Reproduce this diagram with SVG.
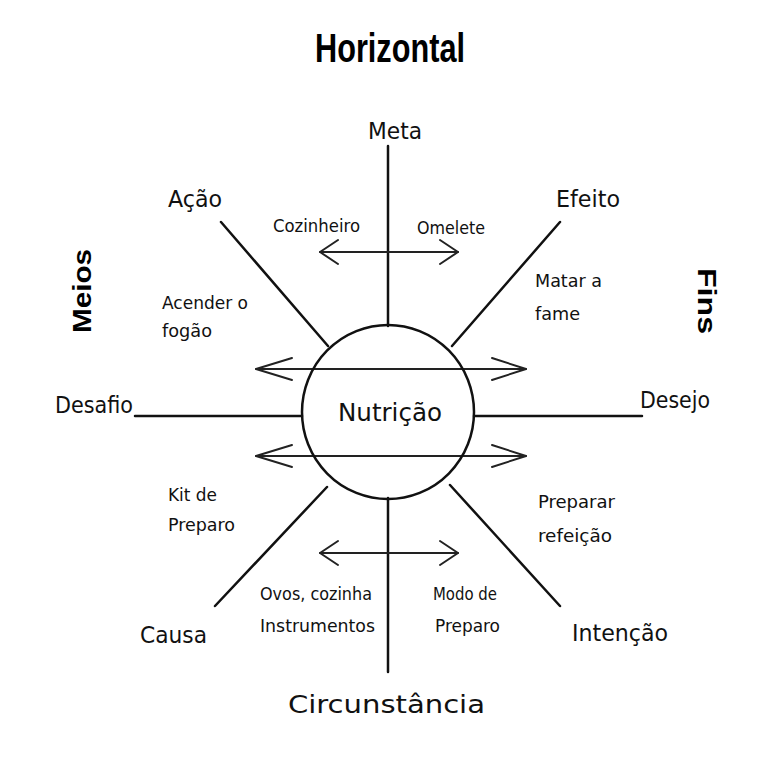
<svg xmlns="http://www.w3.org/2000/svg" width="766" height="768" viewBox="0 0 766 768">
<style>
.ln{stroke:#111;stroke-width:2.5;fill:none;stroke-linecap:round}
.ar{stroke:#222;stroke-width:2;fill:none;stroke-linecap:round;stroke-linejoin:round}
.hw{font-family:"DejaVu Sans Condensed","Liberation Sans",sans-serif;fill:#111}
.big{font-size:23px}
.sm{font-size:18px}
.bold{font-family:"Liberation Sans",Arial,sans-serif;font-weight:bold;fill:#000}
</style>
<rect width="766" height="768" fill="#fff"/>
<g id="connectors">
<line class="ln" x1="388" y1="146" x2="388" y2="326"/>
<line class="ln" x1="388" y1="498" x2="388" y2="672"/>
<line class="ln" x1="135" y1="416" x2="302" y2="416"/>
<line class="ln" x1="474" y1="416" x2="642" y2="416"/>
<line class="ln" x1="221" y1="222" x2="328" y2="346"/>
<line class="ln" x1="560" y1="222" x2="452" y2="346"/>
<line class="ln" x1="215" y1="606" x2="327" y2="487"/>
<line class="ln" x1="450" y1="485" x2="560" y2="606"/>
<g class="ar">
<line x1="320" y1="252" x2="458" y2="252"/>
<polyline points="338,240 320,252 338,264"/>
<polyline points="440,240 458,252 440,264"/>
<line x1="256" y1="369" x2="526" y2="369"/>
<polyline points="292,358 256,369 292,380"/>
<polyline points="492,358 526,369 492,380"/>
<line x1="256" y1="456" x2="526" y2="456"/>
<polyline points="292,445 256,456 292,467"/>
<polyline points="492,445 526,456 492,467"/>
<line x1="320" y1="553" x2="458" y2="553"/>
<polyline points="338,541 320,553 338,565"/>
<polyline points="440,541 458,553 440,565"/>
</g>
</g>
<g id="title"><text class="bold" x="315" y="62" font-size="40" textLength="150" lengthAdjust="spacingAndGlyphs">Horizontal</text></g>
<g id="meios"><text class="bold" font-size="26" text-anchor="middle" transform="translate(91,291) rotate(-90)" textLength="84" lengthAdjust="spacingAndGlyphs">Meios</text></g>
<g id="fins"><text class="bold" font-size="26" text-anchor="middle" transform="translate(698,301) rotate(90)" textLength="66" lengthAdjust="spacingAndGlyphs">Fins</text></g>
<g id="nutricao">
<ellipse cx="388" cy="412" rx="86" ry="87" fill="none" stroke="#111" stroke-width="2.5"/>
<text class="hw" x="338" y="421" font-size="25" textLength="104" lengthAdjust="spacingAndGlyphs">Nutrição</text>
</g>
<g id="meta"><text class="hw big" x="368" y="139" textLength="54" lengthAdjust="spacingAndGlyphs">Meta</text></g>
<g id="acao"><text class="hw big" x="168" y="207" textLength="54" lengthAdjust="spacingAndGlyphs">Ação</text></g>
<g id="efeito"><text class="hw big" x="556" y="207" textLength="64" lengthAdjust="spacingAndGlyphs">Efeito</text></g>
<g id="desafio"><text class="hw big" x="55" y="413" textLength="78" lengthAdjust="spacingAndGlyphs">Desafio</text></g>
<g id="desejo"><text class="hw big" x="640" y="408" textLength="70" lengthAdjust="spacingAndGlyphs">Desejo</text></g>
<g id="causa"><text class="hw big" x="140" y="643" textLength="67" lengthAdjust="spacingAndGlyphs">Causa</text></g>
<g id="intencao"><text class="hw big" x="572" y="641" textLength="96" lengthAdjust="spacingAndGlyphs">Intenção</text></g>
<g id="circunstancia"><text class="hw" x="288" y="713" font-size="25" textLength="197" lengthAdjust="spacingAndGlyphs">Circunstância</text></g>
<g id="cozinheiro"><text class="hw sm" x="273" y="232" textLength="87" lengthAdjust="spacingAndGlyphs">Cozinheiro</text></g>
<g id="omelete"><text class="hw sm" x="417" y="234" textLength="68" lengthAdjust="spacingAndGlyphs">Omelete</text></g>
<g id="acender"><text class="hw sm" x="162" y="309" textLength="86" lengthAdjust="spacingAndGlyphs">Acender o</text><text class="hw sm" x="162" y="337" textLength="50" lengthAdjust="spacingAndGlyphs">fogão</text></g>
<g id="matar"><text class="hw sm" x="535" y="287" textLength="67" lengthAdjust="spacingAndGlyphs">Matar a</text><text class="hw sm" x="535" y="320" textLength="45" lengthAdjust="spacingAndGlyphs">fame</text></g>
<g id="kit"><text class="hw sm" x="168" y="501" textLength="49" lengthAdjust="spacingAndGlyphs">Kit de</text><text class="hw sm" x="168" y="531" textLength="67" lengthAdjust="spacingAndGlyphs">Preparo</text></g>
<g id="preparar"><text class="hw sm" x="538" y="508" textLength="77" lengthAdjust="spacingAndGlyphs">Preparar</text><text class="hw sm" x="538" y="542" textLength="74" lengthAdjust="spacingAndGlyphs">refeição</text></g>
<g id="ovos"><text class="hw sm" x="260" y="600" textLength="112" lengthAdjust="spacingAndGlyphs">Ovos, cozinha</text><text class="hw sm" x="260" y="632" textLength="115" lengthAdjust="spacingAndGlyphs">Instrumentos</text></g>
<g id="modo"><text class="hw sm" x="433" y="600" textLength="64" lengthAdjust="spacingAndGlyphs">Modo de</text><text class="hw sm" x="435" y="632" textLength="65" lengthAdjust="spacingAndGlyphs">Preparo</text></g>
</svg>
